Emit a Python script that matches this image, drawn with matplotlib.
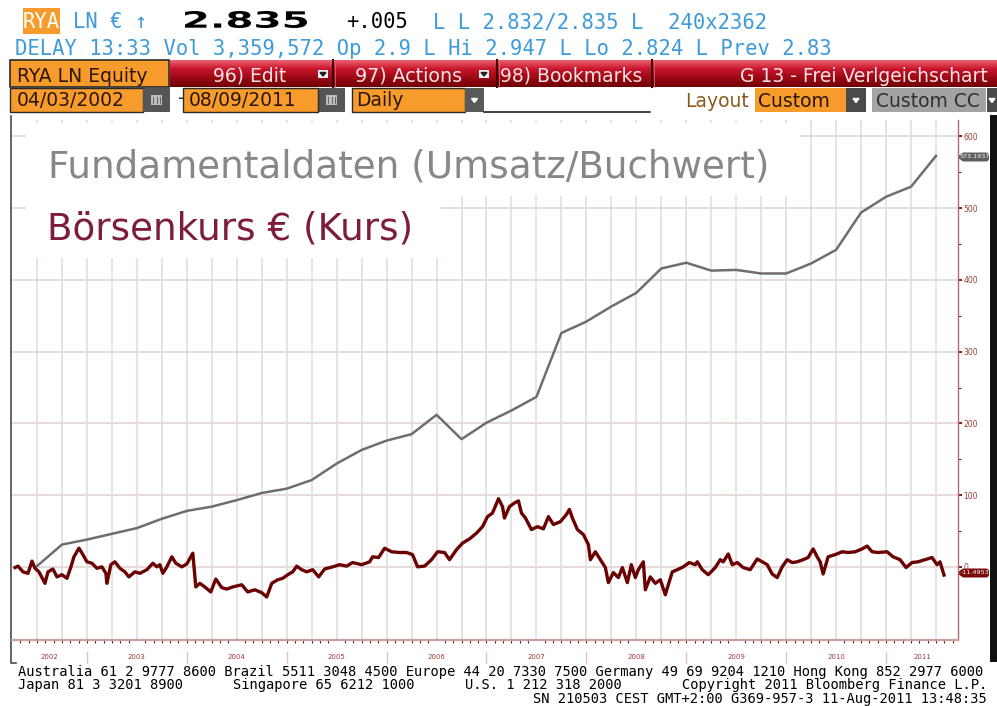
import numpy as np
import matplotlib
matplotlib.use("Agg")
import matplotlib.pyplot as plt
from matplotlib.patches import Rectangle, FancyBboxPatch, PathPatch
from matplotlib.colors import LinearSegmentedColormap
from matplotlib.textpath import TextPath
from matplotlib.font_manager import FontProperties
from matplotlib.transforms import Affine2D

W, H = 997, 706

# Fundamentaldaten (Umsatz/Buchwert), quarterly, relative change in %
fund_dates = [2002.50, 2002.75, 2003.00, 2003.25, 2003.50, 2003.75, 2004.00, 2004.25,
              2004.50, 2004.75, 2005.00, 2005.25, 2005.50, 2005.75, 2006.00, 2006.25,
              2006.50, 2006.75, 2007.00, 2007.25, 2007.50, 2007.75, 2008.00, 2008.25,
              2008.50, 2008.75, 2009.00, 2009.25, 2009.50, 2009.75, 2010.00, 2010.25,
              2010.50, 2010.75, 2011.00, 2011.25, 2011.50]
fund_values = [1, 31, 38, 46, 54, 67, 78, 84,
               93, 103, 109, 121, 144, 163, 176, 185,
               212, 178, 201, 218, 237, 326, 342, 363,
               382, 416, 424, 413, 414, 409, 409, 423,
               442, 494, 516, 530, 573]

# Börsenkurs € (Kurs), relative change in %
price_dates = [2002.28, 2002.31, 2002.36, 2002.41, 2002.45, 2002.48, 2002.52, 2002.58, 2002.61, 2002.66,
               2002.70, 2002.75, 2002.80, 2002.84, 2002.87, 2002.92, 2002.96, 2003.00, 2003.05, 2003.10,
               2003.15, 2003.19, 2003.20, 2003.24, 2003.28, 2003.33, 2003.38, 2003.42, 2003.48, 2003.53,
               2003.60, 2003.66, 2003.70, 2003.73, 2003.76, 2003.80, 2003.85, 2003.89, 2003.95, 2004.00,
               2004.06, 2004.07, 2004.09, 2004.13, 2004.18, 2004.24, 2004.29, 2004.35, 2004.40, 2004.46,
               2004.55, 2004.61, 2004.68, 2004.75, 2004.80, 2004.85, 2004.91, 2004.96, 2005.01, 2005.06,
               2005.10, 2005.15, 2005.20, 2005.26, 2005.32, 2005.38, 2005.46, 2005.53, 2005.60, 2005.66,
               2005.75, 2005.83, 2005.86, 2005.92, 2005.98, 2006.05, 2006.13, 2006.20, 2006.26, 2006.31,
               2006.38, 2006.45, 2006.51, 2006.58, 2006.63, 2006.70, 2006.76, 2006.83, 2006.90, 2006.96,
               2007.01, 2007.06, 2007.12, 2007.16, 2007.18, 2007.23, 2007.28, 2007.32, 2007.35, 2007.39,
               2007.45, 2007.51, 2007.57, 2007.62, 2007.67, 2007.74, 2007.80, 2007.83, 2007.86, 2007.91,
               2007.97, 2008.02, 2008.04, 2008.09, 2008.14, 2008.19, 2008.22, 2008.27, 2008.32, 2008.36,
               2008.41, 2008.45, 2008.49, 2008.52, 2008.57, 2008.59, 2008.64, 2008.69, 2008.74, 2008.79,
               2008.82, 2008.86, 2008.91, 2008.97, 2009.03, 2009.09, 2009.11, 2009.16, 2009.22, 2009.29,
               2009.34, 2009.37, 2009.42, 2009.46, 2009.51, 2009.57, 2009.64, 2009.71, 2009.76, 2009.81,
               2009.86, 2009.91, 2009.96, 2010.01, 2010.06, 2010.11, 2010.17, 2010.22, 2010.27, 2010.31,
               2010.34, 2010.37, 2010.42, 2010.49, 2010.56, 2010.62, 2010.69, 2010.76, 2010.81, 2010.86,
               2010.92, 2011.01, 2011.07, 2011.14, 2011.20, 2011.26, 2011.32, 2011.39, 2011.46, 2011.51,
               2011.54, 2011.58]
price_values = [-1, 1, -7, -9, 8, -2, -7, -23, -7, -3,
                -14, -11, -16, 0, 14, 26, 17, 7, 5, -2,
                0, -9, -23, 3, 7, -2, -7, -14, -7, -9,
                -4, 5, 0, 3, -9, 0, 14, 5, 0, 4,
                19, 3, -28, -23, -28, -35, -17, -29, -31, -28,
                -25, -35, -32, -36, -42, -23, -18, -16, -11, -7,
                1, -4, -7, -4, -14, -3, 0, 3, 1, 6,
                3, 7, 14, 13, 26, 21, 20, 20, 17, 0,
                1, 10, 21, 20, 10, 24, 33, 39, 47, 56,
                70, 75, 95, 84, 68, 84, 89, 92, 75, 68,
                52, 56, 53, 70, 59, 63, 73, 80, 68, 52,
                45, 31, 10, 21, 10, -1, -22, -8, -15, -1,
                -22, 3, -15, -4, 7, -32, -14, -23, -18, -39,
                -25, -7, -4, 0, 6, 3, 7, -4, -11, -1,
                10, 7, 18, 3, 6, -1, -4, 11, 7, 3,
                -10, -15, 0, 10, 6, 7, 10, 13, 25, 14,
                7, -10, 14, 17, 21, 20, 21, 25, 29, 21,
                20, 21, 14, 10, -1, 6, 7, 10, 13, 3,
                7, -11.5]

years = list(range(2002, 2012))
year_labels = [str(y) for y in years]
y_ticks = [0, 100, 200, 300, 400, 500, 600]
last_fund_tag = "573.1937"
last_price_tag = "-11.4953"

x_range = (2002.25, 2011.72)
y_range = (-102, 623)

fig = plt.figure(figsize=(W / 100, H / 100), dpi=100)
fig.patch.set_facecolor("white")
rend = fig.canvas.get_renderer()

# background axes in pixel coordinates for the terminal frame
bg = fig.add_axes([0, 0, 1, 1])
bg.axis("off")
bg.set_xlim(0, W)
bg.set_ylim(H, 0)


def box(x0, y0, x1, y1, fc, ec="none", lw=0, z=1):
    bg.add_patch(Rectangle((x0, y0), x1 - x0, y1 - y0, facecolor=fc,
                           edgecolor=ec, linewidth=lw, zorder=z))


def dropdown(x0, y0, x1, y1, fc="#5a5a5a"):
    box(x0, y0, x1, y1, fc)
    cx, cy = (x0 + x1) / 2, (y0 + y1) / 2
    bg.fill([cx - 3, cx + 3, cx], [cy - 1.5, cy - 1.5, cy + 2.5], color="white", zorder=2)


def fit(t, target):
    t.set_fontsize(t.get_fontsize() * target / t.get_window_extent(rend).width)
    return t.get_fontsize()


orange = "#f79b2c"
blue = "#3c9bd8"
mono = "DejaVu Sans Mono"
sans = "DejaVu Sans"

# --- quote lines
box(23, 8, 60, 34, orange)
bg.text(23, 28, "RYA", family=mono, fontsize=14.8, color="white", va="baseline", zorder=3)
bg.text(73, 28, "LN € ↑", family=mono, fontsize=14.8, color=blue, va="baseline", zorder=3)
tp = TextPath((0, 0), "2.835", size=1, prop=FontProperties(family=sans, weight="bold"))
bb = tp.get_extents()
tr = Affine2D().translate(-bb.x0, -bb.y0).scale(122 / bb.width, -17 / bb.height).translate(185, 28)
bg.add_patch(PathPatch(tp, transform=tr + bg.transData, facecolor="black", lw=0, zorder=3))
bg.text(346, 28, "+.005", family=mono, fontsize=14.8, color="black", va="baseline", zorder=3)
bg.text(433, 28, "L L 2.832/2.835 L  240x2362", family=mono, fontsize=14.8, color=blue,
        va="baseline", zorder=3)
bg.text(15, 55, "DELAY 13:33 Vol 3,359,572 Op 2.9 L Hi 2.947 L Lo 2.824 L Prev 2.83",
        family=mono, fontsize=14.8, color=blue, va="baseline", zorder=3)

# --- toolbar row 1
box(10, 60, 169, 87, orange, ec="#2a2a2a", lw=1.2)
bg.text(17, 81.5, "RYA LN Equity", family=sans, fontsize=13.5, color="#2a1600", va="baseline", zorder=3)
red_cm = LinearSegmentedColormap.from_list("bar", ["#ec6070", "#c8142a", "#9a0a14", "#700008"])
bg.imshow(np.linspace(0, 1, 40)[:, None], extent=(170, 997, 87, 60), cmap=red_cm,
          aspect="auto", zorder=1)
for sx in [333, 497, 652]:
    bg.plot([sx, sx], [60, 87], color="#3a0000", lw=1.5, zorder=2)
    bg.plot([sx + 1.5, sx + 1.5], [60, 87], color="#e06070", lw=0.6, zorder=2)
bar_txt = "#f8e4e4"
bg.text(213, 81.5, "96) Edit", family=sans, fontsize=13.5, color=bar_txt, va="baseline", zorder=3)
bg.text(355, 81.5, "97) Actions", family=sans, fontsize=13.7, color=bar_txt, va="baseline", zorder=3)
bg.text(500, 81.5, "98) Bookmarks", family=sans, fontsize=13.5, color=bar_txt, va="baseline", zorder=3)
bg.text(988, 81.5, "G 13 - Frei Verlgeichschart", family=sans, fontsize=13.5, color=bar_txt,
        va="baseline", ha="right", zorder=3)
for dx in [318, 479]:
    box(dx, 70, dx + 10, 78, "#f0f0f0", z=2)
    bg.fill([dx + 2, dx + 8, dx + 5], [72.5, 72.5, 76], color="#202020", zorder=3)

# --- toolbar row 2
box(10, 88, 143, 112, orange, ec="#2a2a2a", lw=1)
bg.text(17, 106, "04/03/2002", family=sans, fontsize=13.5, color="#2a1600", va="baseline", zorder=3)
for cx0 in [143, 318]:
    box(cx0, 88, cx0 + 27, 112, "#555555")
    box(cx0 + 8, 95, cx0 + 19, 105, "#bdbdbd", z=2)
    for gx in range(3):
        bg.plot([cx0 + 10 + gx * 3.5, cx0 + 10 + gx * 3.5], [97, 103], color="#555555", lw=0.6, zorder=3)
bg.text(177, 104, "-", family=sans, fontsize=13.5, color="#303030", va="baseline", zorder=3)
box(183, 88, 318, 112, orange, ec="#2a2a2a", lw=1)
bg.text(189, 106, "08/09/2011", family=sans, fontsize=13.5, color="#2a1600", va="baseline", zorder=3)
box(352, 88, 465, 112, orange, ec="#2a2a2a", lw=1)
bg.text(356, 106, "Daily", family=sans, fontsize=13.5, color="#2a1600", va="baseline", zorder=3)
dropdown(465, 88, 484, 112)
bg.plot([484, 650], [112, 112], color="#202020", lw=1.2, zorder=2)
bg.text(685, 107, "Layout", family=sans, fontsize=13.5, color="#8a5a1c", va="baseline", zorder=3)
box(755, 88, 846, 112, orange)
bg.text(758, 107, "Custom", family=sans, fontsize=13.5, color="#2a1600", va="baseline", zorder=3)
dropdown(846, 88, 866, 112, fc="#4a4a4a")
box(872, 88, 986, 112, "#a3a3a3")
bg.text(876, 107, "Custom CC", family=sans, fontsize=13.5, color="#303030", va="baseline", zorder=3)
dropdown(987, 88, 997, 112, fc="#4a4a4a")

# --- chart frame
box(990, 115, 997, 662, "#111111")
bg.plot([11, 11, 16], [116, 663, 663], color="#4a4a4a", lw=1.2, zorder=2)

# --- footer
f1 = bg.text(18, 676, "Australia 61 2 9777 8600 Brazil 5511 3048 4500 Europe 44 20 7330 7500 "
             "Germany 49 69 9204 1210 Hong Kong 852 2977 6000", family=mono, fontsize=10,
             color="black", va="baseline", zorder=3)
fsize = fit(f1, 969)
foot = dict(family=mono, fontsize=fsize, color="black", va="baseline", zorder=3)
for fx, s in [(18, "Japan 81 3 3201 8900"), (233, "Singapore 65 6212 1000"),
              (465, "U.S. 1 212 318 2000"), (682, "Copyright 2011 Bloomberg Finance L.P.")]:
    bg.text(fx, 689, s, **foot)
bg.text(987, 703, "SN 210503 CEST GMT+2:00 G369-957-3 11-Aug-2011 13:48:35", ha="right", **foot)

# --- tags on the right axis
for ty, s, c in [(157, last_fund_tag, "#5e5e5e"), (573, last_price_tag, "#7a0a0a")]:
    bg.add_patch(FancyBboxPatch((961, ty - 4.5), 28, 9, boxstyle="round,pad=0,rounding_size=3",
                                facecolor=c, edgecolor="none", zorder=3))
    bg.fill([958, 962, 962], [ty, ty - 3, ty + 3], color=c, zorder=3)
    bg.text(975, ty, s, fontsize=4.6, color="white", ha="center", va="center", zorder=4)

bg.set_xlim(0, W)
bg.set_ylim(H, 0)

# --- main chart
L, R, T, B = 12, 958, 120, 640
ax = fig.add_axes([L / W, 1 - B / H, (R - L) / W, (B - T) / H])
ax.set_facecolor("white")
ax.set_xlim(*x_range)
ax.set_ylim(*y_range)

for q in np.arange(2002.5, x_range[1], 0.25):
    gc = "#eadada" if abs(q % 1 - 0.5) < 1e-6 else "#dfdfdf"
    ax.axvline(q, color=gc, lw=1.2, zorder=1)
for v in y_ticks:
    ax.axhline(v, color="#e6dcdc", lw=1.4, zorder=1)

# white cover behind the legend text
for x0, y0, x1, y1 in [(26, 123, 800, 196), (26, 196, 440, 258)]:
    ax.add_patch(Rectangle((x0, y0), x1 - x0, y1 - y0, transform=bg.transData,
                           facecolor="white", edgecolor="none", zorder=2))

ax.plot(fund_dates, fund_values, color="#6e6e6e", lw=1.8, zorder=3)
ax.plot(price_dates, price_values, color="#6b0202", lw=2.4, zorder=4)

t1 = ax.text(48, 177, "Fundamentaldaten (Umsatz/Buchwert)", transform=bg.transData,
             family=sans, fontsize=26, color="#878787", va="baseline", zorder=5)
t2 = ax.text(47, 239, "Börsenkurs € (Kurs)", transform=bg.transData,
             family=sans, fontsize=26, color="#7d1c3e", va="baseline", zorder=5)
fit(t1, 720)
fit(t2, 366)

for side in ["left", "top"]:
    ax.spines[side].set_visible(False)
ax.spines["bottom"].set_color("#c9a0a0")
ax.spines["bottom"].set_linewidth(1.6)
ax.spines["right"].set_color("#b06a6a")
ax.spines["right"].set_linewidth(1)

ax.yaxis.tick_right()
ax.set_yticks(y_ticks, [str(v) for v in y_ticks])
ax.set_yticks([50, 150, 250, 350, 450, 550], minor=True)
ax.tick_params(axis="y", which="major", length=3, width=1.4, color="#8b1a1a",
               labelsize=5.5, labelcolor="#a03a3a", pad=1)
ax.tick_params(axis="y", which="minor", length=2, width=0.8, color="#8b1a1a")

label_pos = [(max(y, x_range[0]) + min(y + 1, x_range[1])) / 2 for y in years]
ax.set_xticks(label_pos, year_labels)
ax.set_xticks(np.arange(x_range[0] + 1 / 12, x_range[1], 1 / 12), minor=True)
ax.tick_params(axis="x", which="major", length=0, labelsize=5, labelcolor="#a03a3a", pad=10)
ax.tick_params(axis="x", which="minor", length=2.5, width=0.8, color="#7a2020")
for y in years[1:]:
    ax.plot([y, y], [-0.023, -0.044], transform=ax.get_xaxis_transform(), color="#e0c4c4",
            lw=1, clip_on=False)

fig.savefig("out.png", dpi=100, facecolor="white")
